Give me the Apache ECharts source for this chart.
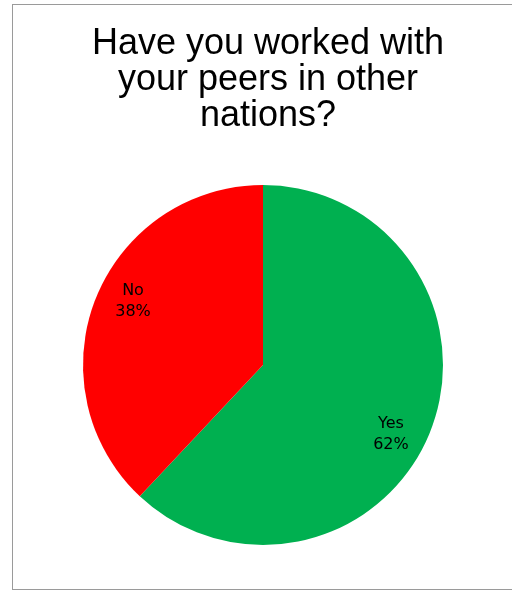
<!DOCTYPE html>
<html>
<head>
<meta charset="utf-8">
<script src="https://cdn.jsdelivr.net/npm/echarts@6/dist/echarts.min.js"></script>
<style>
  html, body { margin: 0; padding: 0; background: #fff; }
  #frame { position: absolute; left: 12px; top: 4px; width: 520px; height: 586px; border: 1px solid #9a9a9a; box-sizing: border-box; }
  #chart { position: absolute; left: 0; top: 0; width: 512px; height: 592px; }
</style>
</head>
<body>
<div id="frame"></div>
<div id="chart"></div>
<script>
const titleText = "Have you worked with\nyour peers in other\nnations?";
const categories = ["Yes", "No"];
const values = [62, 38];
const colors = ["#00B050", "#FF0000"];

const data = categories.map((c, i) => ({ name: c, value: values[i], itemStyle: { color: colors[i] } }));
const labelData = categories.map((c, i) => ({ name: c, value: values[i] }));

const chart = echarts.init(document.getElementById('chart'), null, { renderer: 'canvas' });
chart.setOption({
  backgroundColor: 'transparent',
  animation: false,
  title: {
    text: titleText,
    left: 263,
    textAlign: 'center',
    top: 21,
    textStyle: { fontFamily: 'Liberation Sans', fontSize: 36, fontWeight: 'normal', color: '#000', lineHeight: 36 }
  },
  series: [
    {
      type: 'pie',
      center: [263, 365],
      radius: [0, 180],
      startAngle: 90,
      clockwise: true,
      silent: true,
      label: { show: false },
      labelLine: { show: false },
      itemStyle: { borderWidth: 0 },
      data: data
    },
    {
      type: 'pie',
      center: [262, 368],
      radius: [100, 184],
      startAngle: 84.4,
      clockwise: true,
      silent: true,
      z: 5,
      itemStyle: { color: 'rgba(0,0,0,0)', borderWidth: 0 },
      label: {
        show: true,
        position: 'inside',
        formatter: p => p.name + '\n' + Math.round(p.percent) + '%',
        fontFamily: 'DejaVu Sans',
        fontSize: 16,
        lineHeight: 21,
        color: '#000'
      },
      labelLine: { show: false },
      data: labelData
    }
  ]
});
</script>
</body>
</html>
